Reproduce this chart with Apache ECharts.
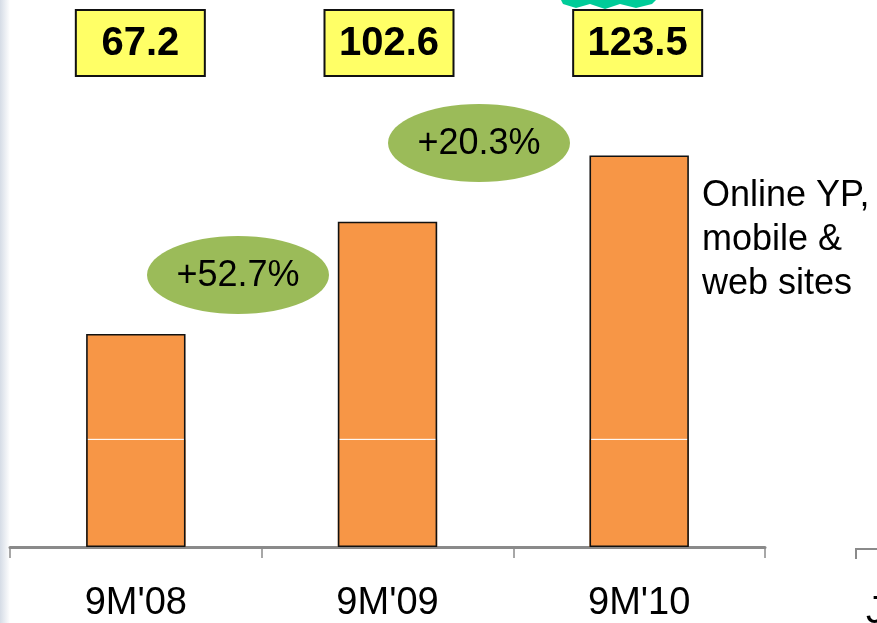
<!DOCTYPE html>
<html><head><meta charset="utf-8">
<script src="https://cdn.jsdelivr.net/npm/echarts@6/dist/echarts.min.js"></script>
<style>html,body{margin:0;padding:0;background:#fff}#c{width:877px;height:623px}</style>
</head><body><div id="c"></div>
<script>
var categories = ["9M'08", "9M'09", "9M'10"];
var totals = [67.2, 102.6, 123.5];
var baseValues = [33.8, 33.8, 33.8];
var growthLabels = ["+52.7%", "+20.3%"];
var seriesLabel = ["Online YP,", "mobile &", "web sites"];

var upper = totals.map(function (t, i) { return +(t - baseValues[i]).toFixed(1); });
var chart = echarts.init(document.getElementById('c'), null, { renderer: 'canvas' });
var FONT = 'Liberation Sans, Arial, sans-serif';
var option = {
  animation: false,
  backgroundColor: '#ffffff',
  grid: { left: 10, right: 112, top: 8, bottom: 74.5 },
  xAxis: {
    type: 'category', data: categories,
    axisLine: { lineStyle: { color: '#8a8a8a', width: 3 } },
    axisTick: { show: true, length: 11, lineStyle: { color: '#8a8a8a', width: 1.5 } },
    axisLabel: { color: '#000', fontFamily: FONT, fontSize: 38, margin: 38 }
  },
  yAxis: { type: 'value', min: 0, max: 170, show: false, splitLine: { show: false } },
  series: [
    { type: 'bar', stack: 's', data: baseValues, barWidth: '39.5%',
      itemStyle: { color: '#F79646', borderWidth: 0 } },
    { type: 'bar', stack: 's', data: upper, barWidth: '39.5%',
      itemStyle: { color: '#F79646', borderColor: '#ffffff', borderWidth: 1 } },
    { type: 'bar', data: totals, barWidth: '39.5%', barGap: '-100%', z: 5,
      itemStyle: { color: 'rgba(0,0,0,0)', borderColor: '#111', borderWidth: 1.6 } }
  ]
};
chart.setOption(option);

var g = [];
// left slide shadow strip
g.push({ type: 'rect', shape: { x: 0, y: 0, width: 10, height: 623 }, silent: true,
  style: { fill: new echarts.graphic.LinearGradient(0, 0, 1, 0, [{ offset: 0, color: '#d5dce6' }, { offset: 1, color: '#ffffff' }]) } });
// teal shape at top
g.push({ type: 'polygon', shape: { points: [[561,0],[563,4],[576,8],[590,4],[605,9],[620,4],[636,8],[652,4],[656,0]] },
  style: { fill: '#00CC99' } });
// yellow value boxes
var boxShift = [4, 1, -2];
totals.forEach(function (v, i) {
  var cx = chart.convertToPixel({ xAxisIndex: 0 }, categories[i]) + boxShift[i];
  g.push({ type: 'rect', shape: { x: cx - 64, y: 10, width: 129, height: 66 },
    style: { fill: '#FFFF66', stroke: '#111', lineWidth: 2 } });
  g.push({ type: 'text', x: cx + 0.5, y: 44,
    style: { text: v.toFixed(1), fill: '#000', font: 'bold 40px "Liberation Sans Narrow", "Arial Narrow", Liberation Sans, sans-serif',
      align: 'center', verticalAlign: 'middle' } });
});
// growth ellipses
var ell = [[238, 275], [479, 143]];
growthLabels.forEach(function (t, i) {
  g.push({ type: 'ellipse', shape: { cx: ell[i][0], cy: ell[i][1], rx: 91, ry: 39 }, style: { fill: '#9BBB59' } });
  g.push({ type: 'text', x: ell[i][0], y: ell[i][1] + 1,
    style: { text: t, fill: '#000', font: '36px Liberation Sans, Arial, sans-serif', align: 'center', verticalAlign: 'middle' } });
});
// series description
g.push({ type: 'text', x: 702, y: 174,
  style: { text: seriesLabel.join('\n'), fill: '#000', font: '36px Liberation Sans, Arial, sans-serif', lineHeight: 44, align: 'left', verticalAlign: 'top' } });
// fragment of neighbouring chart axis
g.push({ type: 'polyline', shape: { points: [[856,559],[856,549],[877,549]] }, style: { stroke: '#8a8a8a', lineWidth: 2, fill: null } });
g.push({ type: 'text', x: 866, y: 594, style: { text: 'J', fill: '#000', font: '38px Liberation Sans, Arial, sans-serif', verticalAlign: 'top' } });
chart.setOption({ graphic: g });
</script></body></html>
